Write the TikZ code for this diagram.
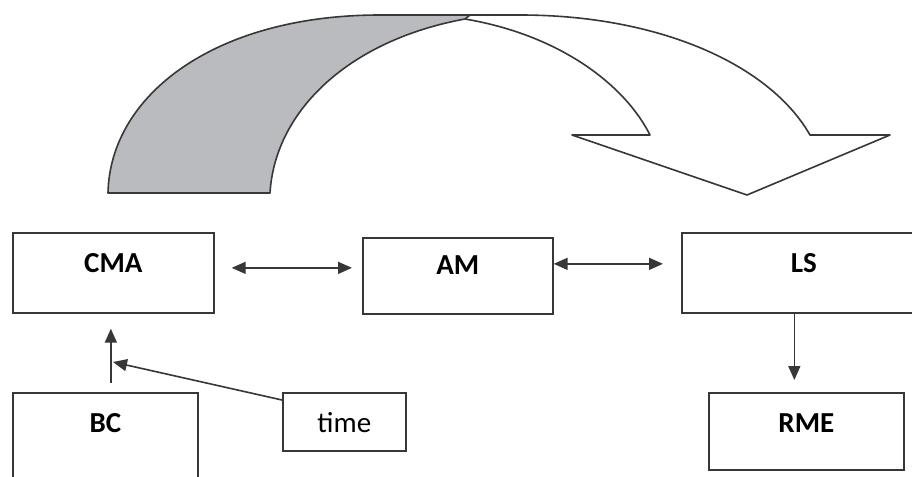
\documentclass[tikz,border=0pt]{standalone}
\usepackage{fontspec}
\setmainfont{Carlito}
\usepackage{tikz}
\usetikzlibrary{arrows.meta, calc, positioning}
\definecolor{linegray}{RGB}{55, 55, 55}
\definecolor{ribbongray}{RGB}{186, 187, 191}

\begin{document}
\begin{tikzpicture}[x=0.5pt, y=-0.5pt,
    box/.style={draw=linegray, line width=0.85pt, inner sep=0pt, anchor=north west,
        text height=20pt, text depth=#1, font=\fontsize{14.5}{16}\selectfont\bfseries},
    conn/.style={draw=linegray, line width=0.8pt, -{Triangle[length=7pt, width=6pt]}},
    dconn/.style={conn, {Triangle[length=7pt, width=6pt]}-{Triangle[length=7pt, width=6pt]}},
    ribbon/.style={draw=linegray, line width=0.8pt, line join=round}]
    \path[use as bounding box, clip] (0,0) rectangle (912,477);
    \fill[white] (0,0) rectangle (912,477);

    % Big curved arrow
    \path[ribbon, fill=white] (465,19) .. controls (560,35) and (625,85) .. (650,135)
        -- (572,135) -- (747,195) -- (890,135) -- (810,135)
        .. controls (770,65) and (660,15) .. (520,15) -- (465,15) -- cycle;
    \path[ribbon, fill=ribbongray] (108,193) .. controls (110,95) and (215,15) .. (380,15)
        -- (470,15) -- (465,19) .. controls (350,40) and (275,110) .. (270,193) -- cycle;

    % Boxes
    \node[box=20pt, minimum width=100.5pt] (cma) at (12,232) {CMA};
    \node[box=19.5pt, text height=18.5pt, minimum width=95pt] (am) at (362,237) {AM};
    \node[box=20pt, minimum width=122pt] (ls) at (681,232) {LS};
    \node[box=30pt, minimum width=92.5pt] (bc) at (12,392) {BC};
    \node[box=9pt, minimum width=61.5pt, font=\fontsize{14.5}{16}\selectfont] (time) at (282,392) {time};
    \node[box=18.5pt, minimum width=97.5pt] (rme) at (708,392) {RME};

    % Connectors
    \draw[dconn, shorten <=8.5pt, shorten >=5pt] ([yshift=2.5pt]cma.east) -- ([yshift=2.5pt]cma.east -| am.west);
    \draw[dconn, shorten >=9pt] ([yshift=6pt]am.east) -- ([yshift=6pt]am.east -| ls.west);
    \draw[conn, shorten >=6pt] ([xshift=-6pt]rme.north |- ls.south) -- ([xshift=-6pt]rme.north);
    \draw[conn, shorten <=4.5pt, shorten >=7.5pt] ([xshift=2.75pt]bc.north) -- ([xshift=2.75pt]bc.north |- cma.south);
    \coordinate (join) at (113,362);
    \draw[conn] ([yshift=-4pt]time.north west) -- (join);
\end{tikzpicture}
\end{document}
